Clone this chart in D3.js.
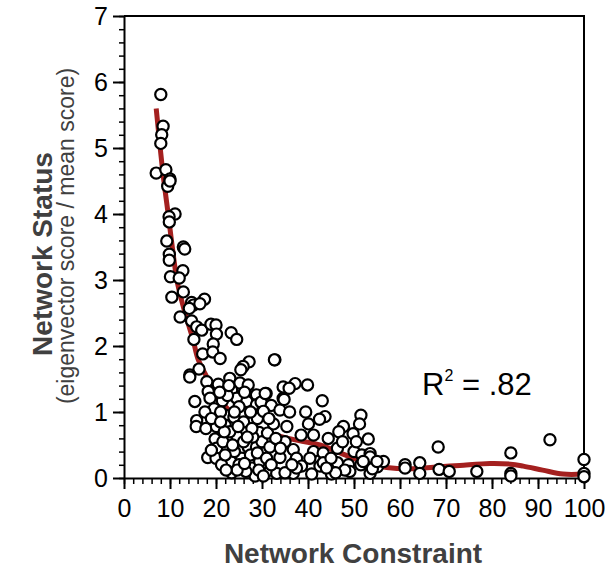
<!DOCTYPE html>
<html>
<head>
<meta charset="utf-8">
<script src="https://cdn.jsdelivr.net/npm/d3@7"></script>
<style>
  body { margin: 0; background: #fff; }
  text { font-family: "Liberation Sans", Arial, sans-serif; }
</style>
</head>
<body>
<div id="container"></div>
<script>
/* CONSTANTS AND GLOBALS */
const width = 605;
const height = 569;
const margin = ({top: 16, right: 21, bottom: 91, left: 124})

// network constraint vs network status
const points = [
  [8.0,5.81],[8.5,5.33],[8.2,5.2],[8.0,5.07],[7.0,4.62],[9.1,4.67],[10.0,4.53],[9.5,4.42],[10.0,4.5],
  [11.1,4.0],[9.8,3.96],[9.85,3.88],[9.3,3.59],[12.9,3.5],[13.2,3.47],[9.85,3.39],[9.85,3.3],[12.8,3.14],
  [10.1,3.05],[12.0,3.03],[12.9,2.82],[10.4,2.74],[14.7,2.66],[15.1,2.62],[17.5,2.71],[16.5,2.64],[14.2,2.57],
  [12.2,2.44],[14.7,2.38],[15.8,2.29],[16.9,2.24],[18.9,2.33],[20.0,2.32],[20.1,2.18],[23.3,2.2],[24.5,2.1],
  [15.2,2.1],[19.4,2.03],[17.1,1.88],[19.3,1.91],[20.9,1.81],[32.8,1.79],[27.2,1.76],[25.9,1.69],[25.4,1.64],
  [16.3,1.65],[14.3,1.56],
  [14.3,1.53],[18.0,1.46],[20.5,1.42],[23.0,1.51],[25.2,1.44],[27.0,1.41],[23.4,1.33],[18.3,1.31],[28.8,1.26],
  [30.9,1.28],[15.4,1.16],[18.7,1.21],[21.4,1.17],[24.5,1.21],[26.7,1.16],[28.8,1.11],[19.6,1.05],[25.0,1.08],
  [30.1,1.02],[17.6,1.0],[22.0,0.95],[23.9,0.92],[15.8,0.87],[28.1,0.86],[15.7,0.78],[17.8,0.75],[20.1,0.78],
  [22.0,0.80],[26.2,0.73],[29.4,0.69],[22.7,0.62],[24.5,0.64],[19.8,0.59],[20.1,0.45],[25.2,0.43],[27.0,0.47],
  [28.8,0.47],[18.2,0.31],[20.0,0.30],[23.2,0.25],[25.6,0.30],[21.2,0.2],[27.8,0.15],[23.4,0.08],[28.5,0.03],
  [21.0,1.0],[23.0,0.7],[26.0,0.55],[27.5,0.35],[24.0,0.4],[29.5,0.25],[26.5,0.1],[22.0,0.35],[30.0,0.55],
  [21.5,0.55],[19.0,0.9],[24.0,1.0],[26.0,0.85],[28.0,0.62],[25.0,0.2],[22.5,1.25],[29.0,0.9],[27.5,1.0],
  [30.5,0.38],[21.8,0.7],
  [20.8,1.3],[22.8,1.4],[26.2,1.3],[29.8,1.15],[27.8,0.75],[24.8,0.78],[21.0,0.85],[23.6,0.5],[26.8,0.62],
  [29.0,0.38],[24.6,0.12],[22.2,0.12],[29.3,0.12],[31.8,0.12],[26.2,0.22],[19.0,0.42],[31.2,0.68],[32.0,1.1],
  [30.30,0.03],[33.2,0.07],[36.8,0.07],[31.0,0.3],[33.9,0.31],[37.2,0.25],[31.7,0.47],[35.0,0.55],[32.5,0.82],
  [35.4,0.78],[30.3,1.01],[33.9,1.03],[30.7,1.28],[34.6,1.21],[34.6,1.38],[37.2,1.43],[32.7,1.79],[39.9,1.41],
  [35.9,1.36],[34.8,1.19],[43.1,1.17],[43.7,0.93],[42.5,0.89],[51.5,0.95],[40.1,0.82],[47.7,0.78],[51.2,0.82],
  [46.7,0.70],[49.8,0.67],[41.2,0.65],[44.4,0.60],[53.1,0.59],[36.8,0.43],[41.2,0.40],[43.3,0.38],[46.4,0.45],
  [50.0,0.40],[51.7,0.35],[37.5,0.30],[40.4,0.30],[46.4,0.23],[48.8,0.20],[51.5,0.20],[38.6,0.18],[42.6,0.18],
  [40.8,0.06],[45.1,0.06],[49.1,0.10],[47.5,0.55],[53.5,0.37],[53.5,0.32],[55.1,0.17],[53.5,0.07],[54.0,0.14],
  [48.0,0.12],[46.0,0.08],[35.0,0.08],[32.0,0.20],[37.5,0.15],[43.3,0.23],[45.0,0.30],[52.0,0.25],[33.0,0.6],
  [36.0,1.0],[38.5,0.65],[39.5,1.0],[31.5,0.9],[36.5,0.2],[34.0,0.45],[44.0,0.15],[50.5,0.55],
  [56.4,0.25],[61.1,0.2],[64.3,0.23],[61.1,0.15],[68.5,0.13],[70.7,0.1],[64.3,0.07],[76.7,0.1],[84.1,0.07],
  [84.1,0.03],[100,0.07],[100,0.02],[68.3,0.47],[92.6,0.58],[84.1,0.38],[100,0.28],[55.0,0.25]
];

// smoothed fit line
const fitX = [7.0, 8.5, 9.6, 10.5, 11.5, 12.5, 13.7, 15, 16.1, 18, 20.1, 22.5, 25.2, 30, 35.7, 42.6, 49.1, 53, 57.1, 62, 68.7, 73, 79.6, 84, 86.8, 91, 95.4, 100];
const fitY = [5.6, 4.6, 4.0, 3.5, 3.0, 2.7, 2.4, 2.1, 1.8, 1.53, 1.23, 1.05, 0.88, 0.72, 0.60, 0.50, 0.32, 0.22, 0.16, 0.14, 0.17, 0.19, 0.22, 0.21, 0.18, 0.12, 0.06, 0.06];

const xTicks = [0, 10, 20, 30, 40, 50, 60, 70, 80, 90, 100];
const yTicks = [0, 1, 2, 3, 4, 5, 6, 7];

/* SCALES */
const xScale = d3.scaleLinear()
  .domain([0, 100])
  .range([margin.left, width - margin.right])

const yScale = d3.scaleLinear()
  .domain([0, 7])
  .range([height - margin.bottom, margin.top])

/* HTML ELEMENTS */
const svg = d3.select("#container")
  .append("svg")
  .attr("width", width)
  .attr("height", height)

// minor ticks first
svg.append("g")
  .attr("transform", `translate(0, ${height - margin.bottom})`)
  .call(d3.axisBottom(xScale).tickValues(d3.range(0, 101, 2)).tickSize(6).tickFormat(""))
  .call(g => g.select(".domain").remove())
  .selectAll("line").attr("stroke-width", 1.5)

svg.append("g")
  .attr("transform", `translate(${margin.left}, 0)`)
  .call(d3.axisLeft(yScale).tickValues(d3.range(0, 7.01, 0.2)).tickSize(5).tickFormat(""))
  .call(g => g.select(".domain").remove())
  .selectAll("line").attr("stroke-width", 1.5)

const xAxis = d3.axisBottom(xScale).tickValues(xTicks).tickSize(11).tickPadding(10).tickSizeOuter(0).tickFormat(d3.format("d"));
const yAxis = d3.axisLeft(yScale).tickValues(yTicks).tickSize(11).tickPadding(5).tickSizeOuter(0).tickFormat(d3.format("d"));

svg.append("g")
  .attr("transform", `translate(0, ${height - margin.bottom})`)
  .call(xAxis)
  .call(g => g.selectAll("line, path").attr("stroke-width", 2))
  .selectAll(".tick text")
  .attr("font-size", "25px")
  .attr("font-family", "Liberation Sans, Arial, sans-serif")
  .attr("fill", "#000")

svg.append("g")
  .attr("transform", `translate(${margin.left}, 0)`)
  .call(yAxis)
  .call(g => g.selectAll("line, path").attr("stroke-width", 2))
  .selectAll(".tick text")
  .attr("font-size", "25px")
  .attr("font-family", "Liberation Sans, Arial, sans-serif")
  .attr("fill", "#000")

// top and right frame
svg.append("path")
  .attr("d", `M${xScale(0)},${yScale(7)}H${xScale(100)}V${yScale(0)}`)
  .attr("fill", "none")
  .attr("stroke", "#000")
  .attr("stroke-width", 2)

// fit line
const line = d3.line()
  .x((d, i) => xScale(fitX[i]))
  .y(d => yScale(d))
  .curve(d3.curveCatmullRom)

svg.append("path")
  .datum(fitY)
  .attr("d", line)
  .attr("fill", "none")
  .attr("stroke", "#a4201f")
  .attr("stroke-width", 5)

// points
svg.selectAll("circle")
  .data(points)
  .join("circle")
  .attr("cx", d => xScale(d[0]))
  .attr("cy", d => yScale(d[1]))
  .attr("r", 5.6)
  .attr("fill", "#fff")
  .attr("stroke", "#000")
  .attr("stroke-width", 2.2)

// r squared label
const r2 = svg.append("text")
  .attr("x", 422)
  .attr("y", 395)
  .attr("font-size", "31px")
  .attr("fill", "#000")
r2.append("tspan").text("R")
r2.append("tspan").text("2").attr("font-size", "16px").attr("dy", -14)
r2.append("tspan").text(" = .82").attr("dy", 14)

// axis titles
svg.append("text")
  .attr("x", 353)
  .attr("y", 563)
  .style("text-anchor", "middle")
  .attr("font-size", "28px")
  .attr("font-weight", "bold")
  .attr("fill", "#404040")
  .text("Network Constraint");

svg.append("text")
  .attr("transform", "translate(52, 254) rotate(-90)")
  .style("text-anchor", "middle")
  .attr("font-size", "28px")
  .attr("font-weight", "bold")
  .attr("fill", "#404040")
  .text("Network Status");

svg.append("text")
  .attr("transform", "translate(74, 236) rotate(-90)")
  .style("text-anchor", "middle")
  .attr("font-size", "23px")
  .attr("fill", "#404040")
  .text("(eigenvector score / mean score)");
</script>
</body>
</html>
